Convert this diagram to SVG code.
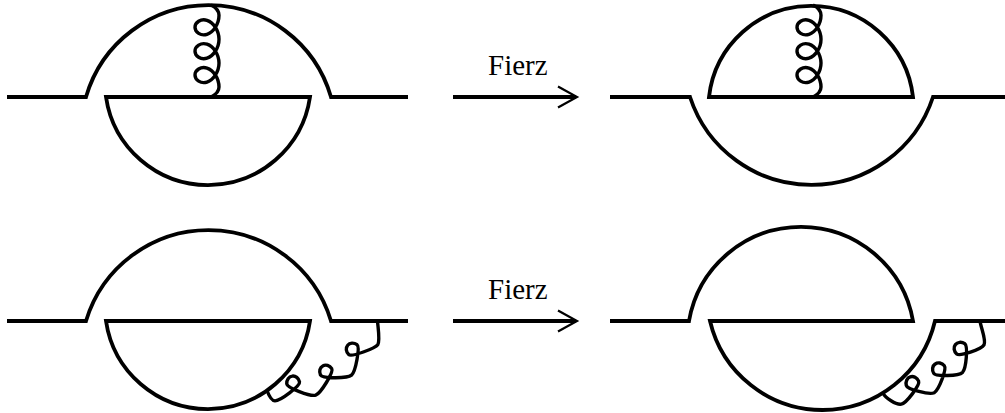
<svg xmlns="http://www.w3.org/2000/svg" xmlns:xlink="http://www.w3.org/1999/xlink" width="1005" height="413" viewBox="0 0 1005 413">
<style>
.ln{fill:none;stroke:#000;stroke-width:3.8;stroke-linejoin:miter;stroke-linecap:butt}
.gl{fill:none;stroke:#000;stroke-width:3.4;stroke-linejoin:round;stroke-linecap:butt}
.ah{fill:none;stroke:#000;stroke-width:2.2;stroke-linejoin:miter}
.lbl{font-family:"Liberation Serif","Times New Roman",serif;font-size:29px;fill:#000}
</style>
<defs>
<path id="gv" class="gl" d="M0,4 C2,8 5,12 10,12 c8.796,0 16.979,-5.717 18.969,-12 c1.99,-6.283 -2.214,-12 -7.031,-12 c-4.817,0 -9.021,5.717 -7.031,12 c1.99,6.283 10.173,12 18.969,12 c8.796,0 16.979,-5.717 18.969,-12 c1.99,-6.283 -2.214,-12 -7.031,-12 c-4.817,0 -9.021,5.717 -7.031,12 c1.99,6.283 10.173,12 18.969,12 c8.796,0 16.979,-5.717 18.969,-12 c1.99,-6.283 -2.214,-12 -7.031,-12 c-4.817,0 -9.021,5.717 -7.031,12 c1.99,6.283 10.173,12 18.969,12 c5,0 8.4,-4 10.37,-8"/>
</defs>
<g id="diagram-top-left">
<path class="ln" d="M7,97 H86 A127.6,127.6 0 0 1 331,97 H408"/>
<path class="ln" d="M106,97 H310 A103.1,103.1 0 0 1 106,97 Z"/>
<use xlink:href="#gv" href="#gv" transform="translate(207,97) rotate(-90)"/>
</g>
<g id="diagram-top-right">
<path class="ln" d="M610,97 H690 A127.9,127.9 0 0 0 933,97 H1005"/>
<path class="ln" d="M709,97 H913 A102.66,102.66 0 0 0 709,97 Z"/>
<use xlink:href="#gv" href="#gv" transform="translate(809,97) rotate(-90)"/>
</g>
<g id="diagram-bottom-left">
<path class="ln" d="M7,321 H86 A128,128 0 0 1 331,321 H408"/>
<path class="ln" d="M106,321 H310 A103.1,103.1 0 0 1 106,321 Z"/>
<path class="gl" d="M267,390.5 C268.5,394.5 270.92,400.7 274.92,400.88 C280.35,401 300.35,385.89 299.53,381.97 C298.73,378.19 295.47,375.63 292.2,376.15 C288.92,376.55 286.48,379.9 286.75,383.76 C287.04,387.75 310.41,396.79 315.61,395.19 C320.72,393.34 333.92,372.03 331.74,368.67 C329.63,365.43 325.67,364.23 322.81,365.89 C319.89,367.44 318.82,371.45 320.47,374.95 C322.17,378.57 347.24,378.57 351.51,375.2 C355.6,371.63 360.23,347 356.99,344.65 C353.86,342.39 349.72,342.69 347.65,345.28 C345.49,347.78 345.94,351.9 348.74,354.57 C351.64,357.33 375.02,348.3 377.78,344.74 C380.27,340.37 378,328 377.5,321"/>
</g>
<g id="diagram-bottom-right">
<path class="ln" d="M610,321 H689 A113.7,113.7 0 0 1 913,321 H710 A115.6,115.6 0 0 0 935,321 H1005"/>
<path class="gl" d="M883,392.9 C885,397.9 896.4,405.15 901.31,404.18 C906.57,403.02 920.16,384.89 918.61,381.2 C917.11,377.64 913.38,375.77 910.22,376.94 C907.03,377.99 905.28,381.78 906.33,385.5 C907.42,389.35 929.35,395.04 934.19,392.66 C938.92,390.07 946.88,368.86 944.36,365.76 C941.92,362.75 937.81,362.01 935.11,364.01 C932.34,365.92 931.72,370.05 933.78,373.33 C935.9,376.72 958.54,376.03 962.52,372.38 C966.34,368.57 968.03,345.98 964.74,343.71 C961.56,341.51 957.4,341.95 955.37,344.63 C953.25,347.24 953.82,351.37 956.71,353.94 C959.7,356.6 981.24,349.59 984.03,344.98 C986.5,340.6 981,328 980,321"/>
</g>
<g id="connectors">
<g id="arrow-top">
<line class="ln" x1="453" y1="97" x2="576" y2="97"/>
<polyline class="ah" points="558,86.5 577,97 558,107.5"/>
<text class="lbl" x="488" y="75">Fierz</text>
</g>
<g id="arrow-bottom">
<line class="ln" x1="453" y1="321" x2="576" y2="321"/>
<polyline class="ah" points="558,310.5 577,321 558,331.5"/>
<text class="lbl" x="488" y="299">Fierz</text>
</g>
</g>
</svg>
